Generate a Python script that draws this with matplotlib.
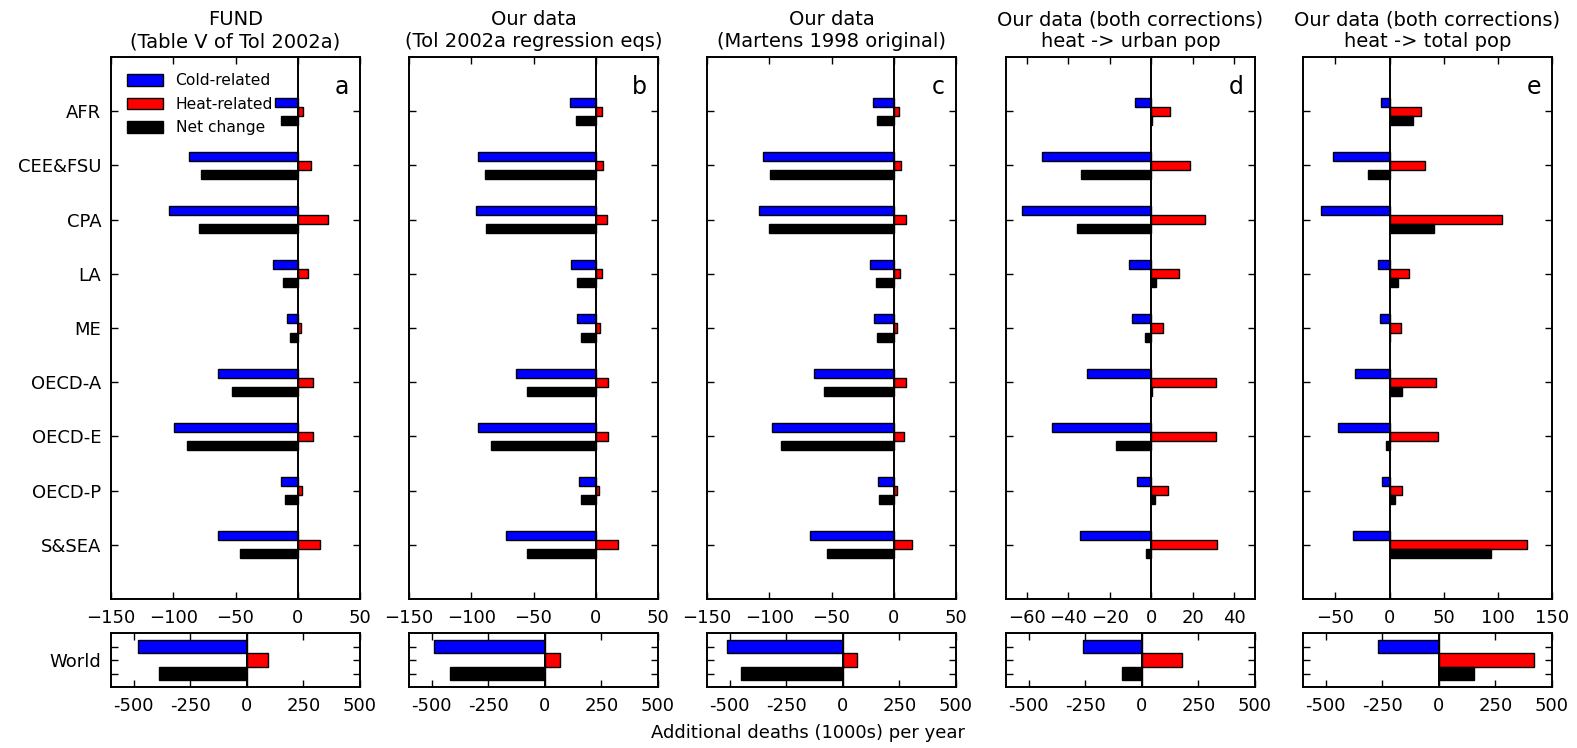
"""Cold/heat-related deaths by region, five data sources side by side."""
import numpy as np
import matplotlib
matplotlib.use("Agg")
import matplotlib.pyplot as plt

regions = ["AFR", "CEE&FSU", "CPA", "LA", "ME", "OECD-A", "OECD-E", "OECD-P", "S&SEA"]

titles = ["FUND\n(Table V of Tol 2002a)",
          "Our data\n(Tol 2002a regression eqs)",
          "Our data\n(Martens 1998 original)",
          "Our data (both corrections)\nheat -> urban pop",
          "Our data (both corrections)\nheat -> total pop"]
letters = ["a", "b", "c", "d", "e"]

cold_a = [-18, -87.6, -103.5, -19.9, -8.6, -64.2, -99.7, -13.4, -64.2]
heat_a = [4.6, 11, 24.2, 8.3, 2.7, 12.1, 12.1, 3.8, 17.7]
net_a = [-13.4, -77.4, -79, -11.6, -6.2, -53, -88.7, -9.9, -46.5]

cold_b = [-20.3, -94.4, -96.3, -19.8, -15, -64.4, -94.4, -13.1, -71.9]
heat_b = [5.1, 5.9, 8.8, 5.1, 3.2, 9.9, 9.9, 2.4, 17.9]
net_b = [-16, -88.8, -88, -15, -11.5, -55.3, -84.2, -11.5, -55.3]

cold_c = [-17, -104.9, -108.6, -18.9, -16.2, -64.3, -98.1, -13, -67]
heat_c = [4.1, 5.9, 9.7, 4.9, 3, 9.7, 8.6, 3, 14.3]
net_c = [-13.5, -99.5, -100.3, -14.3, -13.5, -56, -90.8, -11.6, -54]

cold_d = [-8, -52.8, -62.2, -10.9, -9.1, -30.9, -47.7, -6.9, -34.4]
heat_d = [8.8, 18.7, 26.1, 13.3, 5.9, 31, 31, 8.3, 31.5]
net_d = [0.5, -33.9, -36, 2.2, -3, 0.5, -17.1, 1.6, -2.6]

cold_e = [-8, -52.3, -63.1, -11.1, -9.2, -31.7, -48, -7.1, -34.2]
heat_e = [29.2, 32.6, 103.7, 17.8, 10.2, 42.5, 44.6, 11.4, 127]
net_e = [21.2, -20.3, 40.6, 7.4, 0.6, 11.7, -3.1, 4.9, 93.2]

# World totals: cold, heat, net
world_a = [-482, 95, -387]
world_b = [-488, 67, -420]
world_c = [-510, 63, -450]
world_d = [-260, 176, -86]
world_e = [-268, 421, 157]

panels = [(cold_a, heat_a, net_a, world_a),
          (cold_b, heat_b, net_b, world_b),
          (cold_c, heat_c, net_c, world_c),
          (cold_d, heat_d, net_d, world_d),
          (cold_e, heat_e, net_e, world_e)]

xlims = [(-150, 50), (-150, 50), (-150, 50), (-70, 50), (-80, 150)]
xticks = [[-150, -100, -50, 0, 50]] * 3 + [[-60, -40, -20, 0, 20, 40], [-50, 0, 50, 100, 150]]

plt.rcParams["font.family"] = "DejaVu Sans"
plt.rcParams["axes.linewidth"] = 1.4

W, H = 1577, 748
fig = plt.figure(figsize=(W / 100, H / 100), dpi=100)

lefts = [111, 409, 707, 1006, 1303]
aw = 249
main_top, main_bot = 57, 599
wld_top, wld_bot = 633, 687

ypos = np.arange(len(regions))[::-1] + 1.0   # AFR at top
bh = 1 / 6.0


def style(ax):
    ax.tick_params(direction="in", length=5, width=1, top=True, right=True,
                   labelsize=13, pad=7)


for i, (cold, heat, net, world) in enumerate(panels):
    x0 = lefts[i] / W
    ax = fig.add_axes([x0, 1 - main_bot / H, aw / W, (main_bot - main_top) / H])
    ax.barh(ypos + bh, cold, height=bh, color="#0000ff", edgecolor="k", lw=1, label="Cold-related")
    ax.barh(ypos, heat, height=bh, color="#ff0000", edgecolor="k", lw=1, label="Heat-related")
    ax.barh(ypos - bh, net, height=bh, color="k", edgecolor="k", lw=1, label="Net change")
    ax.axvline(0, color="k", lw=1.4)
    ax.set_xlim(xlims[i])
    ax.set_ylim(0, 10)
    ax.set_xticks(xticks[i])
    ax.set_yticks(ypos)
    if i == 0:
        ax.set_yticklabels(regions)
        ax.legend(loc="upper left", frameon=False, fontsize=11.2, handlelength=2.3,
                  handleheight=0.8, labelspacing=0.55, borderaxespad=0.65)
    else:
        ax.set_yticklabels([])
    style(ax)
    ax.set_title(titles[i], fontsize=14, pad=7)
    ax.text(0.955, 0.945, letters[i], transform=ax.transAxes, ha="right", va="center",
            fontsize=17)

    # World panel underneath
    wx = fig.add_axes([x0, 1 - wld_bot / H, aw / W, (wld_bot - wld_top) / H])
    wy = [2, 1, 0]
    wx.barh(wy, world, height=1, color=["#0000ff", "#ff0000", "k"], edgecolor="k", lw=1)
    wx.axvline(0, color="k", lw=1.4)
    wx.set_xlim(-600, 500)
    wx.set_ylim(-1, 3)
    wx.set_xticks([-500, -250, 0, 250, 500])
    wx.set_xticklabels(["-500", "-250", "0", "250", "500"])
    wx.set_yticks(wy)
    if i == 0:
        wx.set_yticklabels(["", "World", ""])
    else:
        wx.set_yticklabels([])
    style(wx)

fig.text(808 / W, 1 - 733 / H, "Additional deaths (1000s) per year", ha="center",
         va="center", fontsize=13)

fig.savefig("out.png", dpi=100)
